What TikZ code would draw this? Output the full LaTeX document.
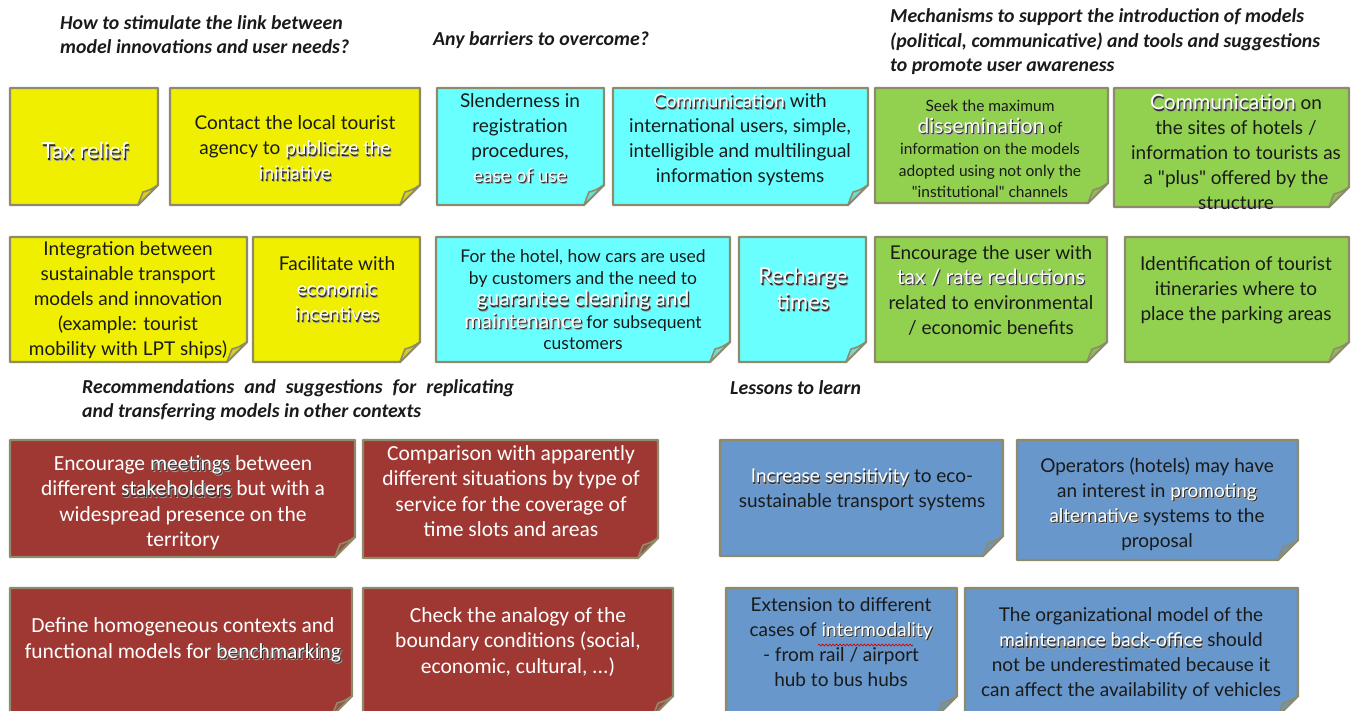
\documentclass[tikz,border=0pt]{standalone}
\usepackage{fontspec}
\setmainfont{Lato}
\newfontfamily\headfont{Carlito}
\newfontfamily\narrowfont{Carlito}
\usetikzlibrary{decorations.pathmorphing}

\definecolor{noteyellow}{HTML}{F0EF00}
\definecolor{notecyan}{HTML}{6AFFFF}
\definecolor{notegreen}{HTML}{92D050}
\definecolor{notered}{HTML}{9F3833}
\definecolor{noteblue}{HTML}{6797CB}
\definecolor{noteline}{HTML}{8E8B6C}
\definecolor{ink}{HTML}{1A1A1A}
\definecolor{glow}{HTML}{2E2E2E}

% white words with a soft dark drop shadow
\newcommand\hl[1]{\leavevmode
  \rlap{\kern1.8pt\raisebox{-2.4pt}{\textcolor{glow!45}{#1}}}%
  \rlap{\kern1.1pt\raisebox{-1.5pt}{\textcolor{glow}{#1}}}%
  \textcolor{white}{#1}}
\newcommand\bigsize{\fontsize{21}{26}\selectfont}
\newcommand\dq{\textquotedbl}

% sticky note: corners (x1,y1) (x2,y2), fill colour
\newcommand\sticky[5]{%
  \draw[notebody,fill=#5] (#1,#2) -- (#3,#2) -- (#3,{#4-20}) -- ({#3-20},#4) -- (#1,#4) -- cycle;
  \draw[notebody,line width=1.6pt,fill=#5!70!noteline]
    (#3,{#4-20}) .. controls ({#3-8},{#4-15}) .. ({#3-15},{#4-13})
    .. controls ({#3-17},{#4-8}) .. ({#3-20},#4) -- cycle;
}

\begin{document}
\begin{tikzpicture}[
  x=1pt, y=-1pt,
  notebody/.style={draw=noteline, line width=2.4pt, line join=round},
  notetext/.style={align=center, inner sep=0pt, text=ink, font=\fontsize{19}{25}\selectfont},
  whitetext/.style={align=center, inner sep=0pt, text=white, font=\narrowfont\fontsize{21.5}{25.5}\selectfont},
  heading/.style={align=left, anchor=west, inner sep=0pt, text=ink,
    font=\headfont\bfseries\itshape\fontsize{19.8}{24}\selectfont},
]
\useasboundingbox (0,0) rectangle (1351,710);
\clip (0,0) rectangle (1351,710);

% ---- headings
\node[heading] (h1) at (60,35) {How to stimulate the link between\\model innovations and user needs?};
\node[heading] (h2) at (433,40) {Any barriers to overcome?};
\node[heading,font=\headfont\bfseries\itshape\fontsize{19.8}{24.5}\selectfont] (h3) at (890,42) {Mechanisms to support the introduction of models\\(political, communicative) and tools and suggestions\\to promote user awareness};
\node[heading] (h4) at (82,400) {\makebox[432pt][s]{Recommendations and suggestions for replicating}\\and transferring models in other contexts};
\node[heading] (h5) at (730,388) {Lessons to learn};

% ---- notes, row 1
\sticky{10}{88}{158}{205}{noteyellow}
\sticky{170}{88}{420}{205}{noteyellow}
\sticky{437}{88}{604}{205}{notecyan}
\sticky{613}{88}{868}{205}{notecyan}
\sticky{875}{88}{1108}{203}{notegreen}
\sticky{1114}{88}{1349}{207}{notegreen}

\node[notetext,font=\fontsize{22}{26}\selectfont] (taxrelief) at (85,152) {\hl{Tax relief}};
\node[notetext] (agency) at (295,149) {Contact the local tourist\\agency to \hl{publicize the}\\\hl{initiative}};
\node[notetext] (slender) at (520,139) {Slenderness in\\registration\\procedures,\\\hl{ease of use}};
\node[notetext] (commint) at (740,140) {\hl{Communication} with\\international users, simple,\\intelligible and multilingual\\information systems};
\node[notetext,font=\fontsize{15.5}{21.5}\selectfont] (dissem) at (990,149) {Seek the maximum\\{\bigsize\hl{dissemination}} of\\information on the models\\adopted using not only the\\\dq institutional\dq{} channels};
\node[notetext] (commsite) at (1236,152) {{\bigsize\hl{Communication}} on\\the sites of hotels /\\information to tourists as\\a \dq plus\dq{} offered by the\\structure};

% ---- notes, row 2
\sticky{10}{237}{247}{362}{noteyellow}
\sticky{253}{237}{420}{362}{noteyellow}
\sticky{436}{237}{730}{362}{notecyan}
\sticky{739}{237}{866}{362}{notecyan}
\sticky{875}{237}{1107}{362}{notegreen}
\sticky{1125}{237}{1349}{362}{notegreen}

\node[notetext] (integr) at (128,300) {Integration between\\sustainable transport\\models and innovation\\(example: tourist\\mobility with LPT ships)};
\node[notetext] (facil) at (337,290) {Facilitate with\\\hl{economic}\\\hl{incentives}};
\node[notetext,font=\fontsize{17.5}{21.5}\selectfont] (hotel) at (583,300) {For the hotel, how cars are used\\by customers and the need to\\{\bigsize\hl{guarantee cleaning and}}\\{\bigsize\hl{maintenance}} for subsequent\\customers};
\node[notetext,font=\fontsize{22}{26}\selectfont] (recharge) at (803,290) {\hl{Recharge}\\\hl{times}};
\node[notetext] (encuser) at (991,290) {Encourage the user with\\{\bigsize\hl{tax / rate reductions}}\\related to environmental\\/ economic benefits};
\node[notetext] (itiner) at (1236,290) {Identification of tourist\\itineraries where to\\place the parking areas};

% ---- notes, row 3
\sticky{10}{440}{355}{557}{notered}
\sticky{363}{440}{658}{558}{notered}
\sticky{720}{440}{1003}{556}{noteblue}
\sticky{1017}{440}{1298}{560}{noteblue}

\node[whitetext] (meet) at (183,503) {Encourage \hl{meetings} between\\different \hl{stakeholders} but with a\\widespread presence on the\\territory};
\node[whitetext] (compar) at (511,491) {Comparison with apparently\\different situations by type of\\service for the coverage of\\time slots and areas};
\node[notetext] (sensit) at (862,490) {\hl{Increase sensitivity} to eco-\\sustainable transport systems};
\node[notetext] (operat) at (1157,504) {Operators (hotels) may have\\an interest in \hl{promoting}\\\hl{alternative} systems to the\\proposal};

% ---- notes, row 4 (run past the lower edge)
\sticky{10}{588}{352}{716}{notered}
\sticky{363}{588}{673}{716}{notered}
\sticky{726}{588}{957}{716}{noteblue}
\sticky{965}{588}{1298}{716}{noteblue}

\node[whitetext] (bench) at (183,641) {Define homogeneous contexts and\\functional models for \hl{benchmarking}};
\node[whitetext] (analogy) at (518,642) {Check the analogy of the\\boundary conditions (social,\\economic, cultural, ...)};
\node[notetext] (extens) at (841,642) {Extension to different\\cases of \hl{intermodality}\\- from rail / airport\\hub to bus hubs};
\node[notetext] (orgmod) at (1131,654) {The organizational model of the\\\hl{maintenance back-office} should\\not be underestimated because it\\can affect the availability of vehicles};

% spell-check squiggle under "intermodality"
\draw[red!85!black, line width=0.7pt, decorate, decoration={snake, amplitude=0.9pt, segment length=3.5pt}]
  (818,645) -- (913,645);
\end{tikzpicture}
\end{document}
